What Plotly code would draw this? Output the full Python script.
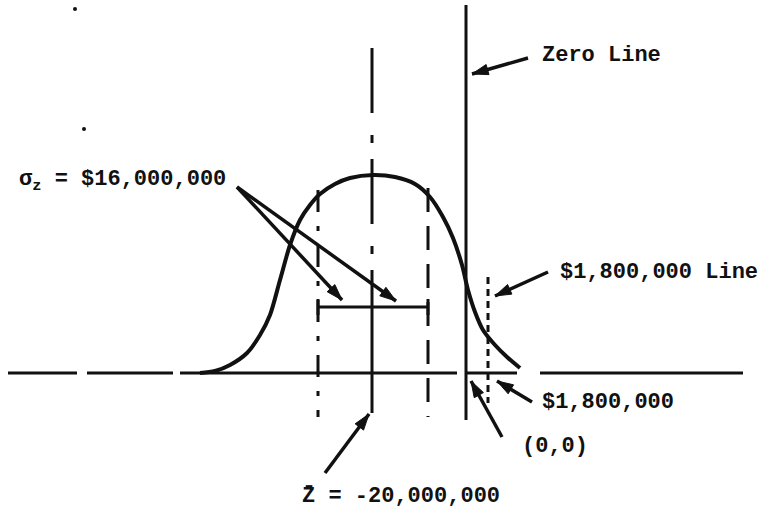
import plotly.graph_objects as go

# Diagram coordinates (x to the right, y downward, same scale as the 760x513 sketch)
curve_x = [200, 215, 230, 247, 260, 270, 280, 290, 300, 310, 320, 335, 350, 373,
           395, 415, 430, 443, 453, 462, 468, 475, 483, 495, 507, 520]
curve_y = [373, 371, 365, 353, 335, 315, 280, 245, 220, 205, 194, 184, 178, 175,
           177, 184, 197, 217, 238, 265, 290, 312, 330, 345, 357, 368]

baseline_y = 373
baseline_pieces = [(8, 77), (87, 173), (180, 457), (466, 517), (540, 743)]

mean_x = 372
mean_dashdot = (48, 283)
mean_solid = (283, 413)
zero_x = 466
zero_span = (5, 420)
line18_x = 488
line18_span = (277, 403)
sigma_left_x, sigma_left_span = 318, (190, 417)
sigma_right_x, sigma_right_span = 428, (188, 417)
bracket_y = 307

labels = [
    ("σ<sub>z</sub> = $16,000,000", 17, 181),
    ("Zero Line", 540, 55),
    ("$1,800,000 Line", 558, 272),
    ("$1,800,000", 540, 402),
    ("(0,0)", 520, 446),
    ("Z\u0304 = -20,000,000", 300, 496),
]

# arrows: (tail_x, tail_y, head_x, head_y)
arrows = [
    (528, 58, 472, 74),
    (548, 272, 495, 296),
    (532, 402, 497, 381),
    (502, 437, 471, 381),
    (325, 473, 369, 414),
    (237, 187, 396, 301),
    (237, 187, 342, 300),
]

specks = [(75, 9), (84, 129)]

INK = "#111111"
fig = go.Figure()

def seg(xs, ys, width=3, dash="solid"):
    fig.add_trace(go.Scatter(x=xs, y=ys, mode="lines",
                             line=dict(color=INK, width=width, dash=dash),
                             hoverinfo="skip", showlegend=False))

# baseline
bx, by = [], []
for a, b in baseline_pieces:
    bx += [a, b, None]
    by += [baseline_y, baseline_y, None]
seg(bx, by, width=3)

# curve
fig.add_trace(go.Scatter(x=curve_x, y=curve_y, mode="lines",
                         line=dict(color=INK, width=4, shape="spline", smoothing=0.8),
                         hoverinfo="skip", showlegend=False))

# vertical lines
seg([mean_x, mean_x], list(mean_dashdot), width=3, dash="65px,22px,8px,16px")
seg([mean_x, mean_x], list(mean_solid), width=3)
seg([zero_x, zero_x], list(zero_span), width=3)
seg([line18_x, line18_x], list(line18_span), width=3, dash="7px,5px")
seg([sigma_left_x, sigma_left_x], list(sigma_left_span), width=3, dash="22px,14px,5px,14px")
seg([sigma_right_x, sigma_right_x], list(sigma_right_span), width=3, dash="24px,14px")

# bracket
seg([sigma_left_x, sigma_right_x], [bracket_y, bracket_y], width=3)
seg([sigma_left_x, sigma_left_x, None, sigma_right_x, sigma_right_x],
    [bracket_y - 8, bracket_y + 8, None, bracket_y - 8, bracket_y + 8], width=3)

# specks
fig.add_trace(go.Scatter(x=[p[0] for p in specks], y=[p[1] for p in specks], mode="markers",
                         marker=dict(color=INK, size=4), hoverinfo="skip", showlegend=False))

# pointer arrows: shaft lines
for tx, ty, hx, hy in arrows:
    seg([tx, hx], [ty, hy], width=3.5)

# arrowheads oriented along each shaft
fig.add_trace(go.Scatter(
    x=[a[2] for a in arrows], y=[a[3] for a in arrows], mode="markers",
    marker=dict(symbol="arrow", size=17, color=INK, opacity=1,
                angle=[0] * len(arrows), line=dict(width=1, color=INK),
                standoff=0),
    opacity=1, hoverinfo="skip", showlegend=False))

import math
angles = []
for tx, ty, hx, hy in arrows:
    # screen angle (clockwise from up), y grows downward in this diagram
    angles.append(math.degrees(math.atan2(hx - tx, -(hy - ty))))
fig.data[-1].marker.angle = angles

for txt, x, y in labels:
    fig.add_annotation(x=x, y=y, xref="x", yref="y", text=txt, showarrow=False,
                       xanchor="left", yanchor="middle",
                       font=dict(family="Liberation Mono", size=22, color=INK, weight="bold"))

fig.update_layout(
    width=760, height=513,
    margin=dict(l=0, r=0, t=0, b=0),
    paper_bgcolor="white", plot_bgcolor="white",
    xaxis=dict(range=[0, 760], visible=False, fixedrange=True),
    yaxis=dict(range=[513, 0], visible=False, fixedrange=True),
)

fig.write_html("out.html", config={"displayModeBar": False},
               post_script="document.body.style.margin='0';document.body.style.overflow='hidden';")
